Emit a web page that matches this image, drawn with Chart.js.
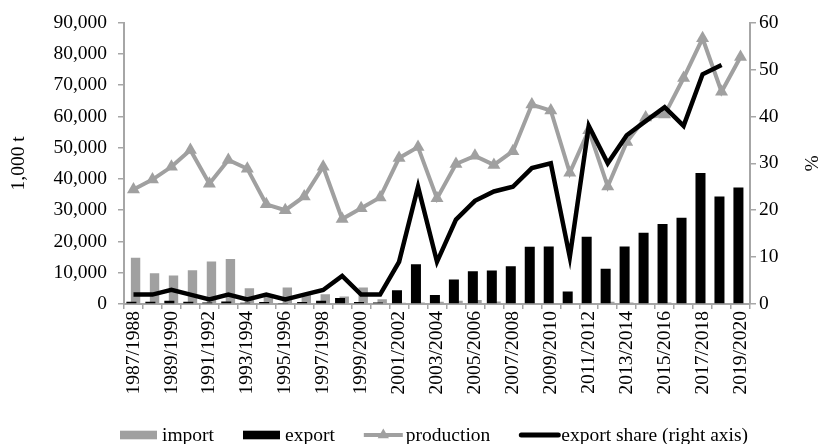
<!DOCTYPE html>
<html>
<head>
<meta charset="utf-8">
<script src="https://cdn.jsdelivr.net/npm/chart.js@4.4.1/dist/chart.umd.min.js"></script>
<style>
  html, body { margin: 0; padding: 0; background: #ffffff; }
  #wrap { width: 820px; height: 444px; position: relative; }
</style>
</head>
<body>
<div id="wrap"><canvas id="c" width="820" height="444"></canvas></div>
<script>
const categories = [
  "1987/1988","1988/1989","1989/1990","1990/1991","1991/1992","1992/1993",
  "1993/1994","1994/1995","1995/1996","1996/1997","1997/1998","1998/1999",
  "1999/2000","2000/2001","2001/2002","2002/2003","2003/2004","2004/2005",
  "2005/2006","2006/2007","2007/2008","2008/2009","2009/2010","2010/2011",
  "2011/2012","2012/2013","2013/2014","2014/2015","2015/2016","2016/2017",
  "2017/2018","2018/2019","2019/2020"
];
const importVals = [
  14800, 9800, 9100, 10800, 13600, 14400,
  5000, 3200, 5300, 3000, 3100, 2400,
  5300, 1500, 400, 500, 700, 1000,
  1300, 800, 300, 100, 100, 200,
  300, 700, 500, 200, 500, 300,
  200, 300, 200
];
const exportVals = [
  700, 700, 1000, 700, 500, 800,
  400, 600, 300, 600, 1000, 1900,
  600, 500, 4400, 12700, 2900, 7800,
  10500, 10700, 12100, 18300, 18400, 4000,
  21500, 11300, 18400, 22800, 25600, 27600,
  41900, 34400, 37300
];
const productionVals = [
  36600, 39800, 43900, 49300, 38500, 46100,
  43300, 31900, 30000, 34400, 43900, 27200,
  30600, 34100, 46700, 50200, 33800, 44800,
  47400, 44500, 48900, 63800, 61900, 42000,
  55600, 37600, 51800, 59700, 60600, 72300,
  85000, 67900, 79000
];
const exportShareVals = [
  2, 2, 3, 2, 1, 2,
  1, 2, 1, 2, 3, 6,
  2, 2, 9, 25, 9, 18,
  22, 24, 25, 29, 30, 10,
  38, 30, 36, 39, 42, 38,
  49, 51, null
];
const seriesNames = ["import", "export", "production", "export share (right axis)"];

const FONT = '"Liberation Serif", "Times New Roman", serif';
const FS = 19.5;
const AXIS_GRAY = '#a6a6a6';
const BAR_GRAY = '#a0a0a0';
const LINE_GRAY = '#a0a0a0';

const legendPlugin = {
  id: 'customLegend',
  afterDraw(chart) {
    const ctx = chart.ctx;
    ctx.save();
    ctx.font = FS + 'px ' + FONT;
    ctx.fillStyle = '#000';
    ctx.textBaseline = 'alphabetic';
    ctx.textAlign = 'left';
    const cy = 435, base = 440.5;
    let x = 120;
    const sw = 37;
    seriesNames.forEach((name, i) => {
      if (i === 0 || i === 1) {
        ctx.fillStyle = i === 0 ? BAR_GRAY : '#000';
        ctx.fillRect(x, cy - 4.3, sw, 8.6);
      } else if (i === 2) {
        ctx.strokeStyle = LINE_GRAY;
        ctx.lineWidth = 4;
        ctx.beginPath(); ctx.moveTo(x, cy); ctx.lineTo(x + sw + 2, cy); ctx.stroke();
        ctx.fillStyle = LINE_GRAY;
        const r = 6.5, mx = x + (sw + 2) / 2;
        ctx.beginPath();
        ctx.moveTo(mx, cy - r);
        ctx.lineTo(mx + r * 0.866, cy + r * 0.5);
        ctx.lineTo(mx - r * 0.866, cy + r * 0.5);
        ctx.closePath(); ctx.fill();
      } else {
        ctx.strokeStyle = '#000';
        ctx.lineWidth = 5;
        ctx.lineCap = 'round';
        ctx.beginPath(); ctx.moveTo(x + 2, cy); ctx.lineTo(x + sw + 2, cy); ctx.stroke();
      }
      const tx = x + sw + 5;
      ctx.fillStyle = '#000';
      ctx.fillText(name, tx, base);
      x = tx + ctx.measureText(name).width + 29;
    });
    ctx.restore();
  }
};

const ctx = document.getElementById('c').getContext('2d');
new Chart(ctx, {
  data: {
    labels: categories,
    datasets: [
      {
        type: 'line', label: seriesNames[3], data: exportShareVals, yAxisID: 'y2',
        borderColor: '#000', borderWidth: 4.5, pointRadius: 0, tension: 0,
        borderJoinStyle: 'miter', spanGaps: false, order: 0
      },
      {
        type: 'line', label: seriesNames[2], data: productionVals, yAxisID: 'y',
        borderColor: LINE_GRAY, borderWidth: 4, pointStyle: 'triangle',
        pointRadius: 7.5, pointBackgroundColor: LINE_GRAY, pointBorderColor: LINE_GRAY,
        pointBorderWidth: 0, tension: 0, order: 1
      },
      {
        type: 'bar', label: seriesNames[1], data: exportVals, yAxisID: 'y',
        backgroundColor: '#000', categoryPercentage: 0.44, barPercentage: 2.4, order: 2
      },
      {
        type: 'bar', label: seriesNames[0], data: importVals, yAxisID: 'y',
        backgroundColor: BAR_GRAY, categoryPercentage: 0.44, barPercentage: 2.25, order: 3
      }
    ]
  },
  options: {
    responsive: false,
    animation: false,
    devicePixelRatio: 1,
    layout: { padding: { top: 19, left: 0, right: 0, bottom: 0 } },
    plugins: { legend: { display: false }, tooltip: { enabled: false } },
    scales: {
      x: {
        type: 'category',
        offset: true,
        grid: { display: true, offset: true, drawOnChartArea: false, drawTicks: true,
                tickLength: 5, color: AXIS_GRAY, lineWidth: 1.5 },
        border: { display: true, color: AXIS_GRAY, width: 2 },
        ticks: {
          autoSkip: false, minRotation: 90, maxRotation: 90, padding: 2,
          color: '#000', font: { family: FONT, size: FS },
          callback: function (v, i) { return i % 2 === 0 ? categories[i] : ''; }
        },
        afterFit(scale) { scale.height = 140; }
      },
      y: {
        type: 'linear', position: 'left', min: 0, max: 90000,
        grid: { display: true, drawOnChartArea: false, drawTicks: true, tickLength: 6,
                color: AXIS_GRAY, lineWidth: 1.5 },
        border: { display: true, color: AXIS_GRAY, width: 2 },
        ticks: {
          stepSize: 10000, padding: 11, color: '#000', font: { family: FONT, size: FS },
          callback: v => v.toLocaleString('en-US')
        },
        title: { display: true, text: '1,000 t', color: '#000',
                 font: { family: FONT, size: FS }, padding: { top: 7, bottom: 0 } },
        afterFit(scale) { scale.width = 124; }
      },
      y2: {
        type: 'linear', position: 'right', min: 0, max: 60,
        grid: { display: true, drawOnChartArea: false, drawTicks: true, tickLength: 6,
                color: AXIS_GRAY, lineWidth: 1.5 },
        border: { display: true, color: AXIS_GRAY, width: 2 },
        ticks: { stepSize: 10, padding: 3, color: '#000', font: { family: FONT, size: FS } },
        title: { display: true, text: '%', color: '#000',
                 font: { family: FONT, size: FS, lineHeight: 1 }, padding: { top: 0, bottom: 0 } },
        afterFit(scale) { scale.width = 70; }
      }
    }
  },
  plugins: [legendPlugin]
});
</script>
</body>
</html>
